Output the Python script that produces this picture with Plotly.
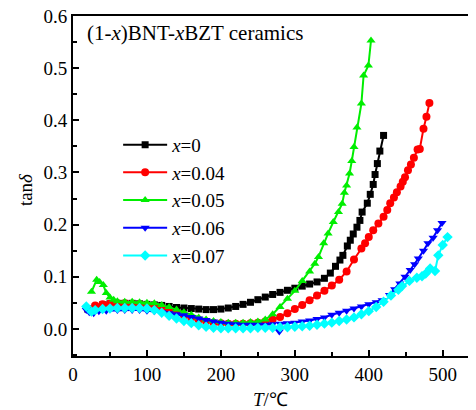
import plotly.graph_objects as go

# x = 0 (black squares)
t_black = [20, 30, 40, 50, 60, 70, 80, 90, 100, 110, 120, 130, 140, 150, 160, 170, 180, 190,
           200, 210, 220, 230, 240, 250, 260, 270, 280, 290, 300, 310, 320, 330, 340, 348,
           355, 361, 365, 371, 375, 379, 384, 388, 391, 398, 402, 406, 408.5, 411.6, 415, 420]
d_black = [0.038, 0.042, 0.046, 0.048, 0.049, 0.049, 0.049, 0.048, 0.047, 0.046, 0.045, 0.043,
           0.041, 0.040, 0.039, 0.038, 0.037, 0.037, 0.038, 0.040, 0.043, 0.047, 0.051, 0.056,
           0.061, 0.066, 0.070, 0.074, 0.078, 0.082, 0.086, 0.090, 0.097, 0.107, 0.120, 0.132,
           0.141, 0.159, 0.170, 0.182, 0.195, 0.208, 0.224, 0.241, 0.258, 0.277, 0.296, 0.317,
           0.341, 0.371]

# x = 0.04 (red circles)
t_red = [20, 30, 40, 50, 60, 70, 80, 90, 100, 110, 120, 130, 140, 150, 160, 170, 180, 190, 200,
         210, 220, 230, 240, 250, 260, 270, 280, 290, 300, 310, 320, 330, 340, 350, 360, 370,
         380, 390, 395, 400, 406, 413, 420, 425, 429, 434, 438, 443, 446, 449, 453, 457, 461,
         466, 469, 474, 478, 482]
d_red = [0.038, 0.045, 0.047, 0.048, 0.049, 0.049, 0.048, 0.047, 0.046, 0.044, 0.040, 0.035,
         0.030, 0.025, 0.021, 0.017, 0.014, 0.012, 0.011, 0.010, 0.010, 0.010, 0.011, 0.012,
         0.014, 0.018, 0.023, 0.030, 0.038, 0.046, 0.055, 0.064, 0.073, 0.083, 0.094, 0.110,
         0.133, 0.154, 0.164, 0.176, 0.189, 0.202, 0.215, 0.228, 0.241, 0.252, 0.262, 0.273,
         0.282, 0.291, 0.304, 0.315, 0.328, 0.344, 0.345, 0.384, 0.407, 0.433]

# x = 0.05 (green up-triangles)
t_green = [25, 32, 36, 41, 45, 50, 55, 60, 70, 80, 90, 100, 110, 120, 130, 140, 150, 160, 170,
           180, 190, 200, 210, 220, 230, 240, 250, 260, 270, 280, 290, 300, 310, 320, 327, 332,
           339, 345, 352, 359, 364, 367, 370, 374, 377, 380, 384, 390, 393, 399.5, 403]
d_green = [0.071, 0.094, 0.090, 0.084, 0.069, 0.060, 0.056, 0.053, 0.052, 0.052, 0.051, 0.050,
           0.049, 0.046, 0.042, 0.037, 0.032, 0.027, 0.022, 0.018, 0.015, 0.013, 0.012, 0.012,
           0.012, 0.013, 0.014, 0.018, 0.028, 0.042, 0.058, 0.073, 0.092, 0.110, 0.125, 0.138,
           0.164, 0.183, 0.205, 0.224, 0.240, 0.261, 0.275, 0.298, 0.322, 0.349, 0.386, 0.432,
           0.486, 0.505, 0.553]

# x = 0.06 (blue down-triangles); None marks the break in the curve
t_blue = [18, 22, 28, 35, 45, 60, 70, 80, 90, 100, 110, 120, 130, 140, 150, 160, 170, 180, 190,
          200, 210, 220, 230, 240, 250, 260, 270, 279, 280, 290, 300, 310, 320, 330, 340, 350,
          360, 370, 380, 390, 400, 410, 418, None, 428, 435, 442, 449, 456, 462, 467, 474, 480,
          487, 493, 499]
d_blue = [0.036, 0.032, 0.030, 0.034, 0.035, 0.036, 0.036, 0.036, 0.036, 0.035, 0.034, 0.032,
          0.030, 0.028, 0.026, 0.023, 0.020, 0.017, 0.014, 0.012, 0.010, 0.009, 0.008, 0.008,
          0.008, 0.008, 0.009, -0.005, 0.010, 0.011, 0.012, 0.014, 0.016, 0.019, 0.022, 0.027,
          0.031, 0.035, 0.039, 0.043, 0.047, 0.051, 0.055, None, 0.065, 0.076, 0.087, 0.100,
          0.113, 0.124, 0.135, 0.150, 0.164, 0.175, 0.189, 0.203]

# x = 0.07 (cyan diamonds)
t_cyan = [18, 25, 30, 40, 50, 60, 70, 80, 90, 100, 110, 120, 130, 140, 150, 160, 170, 180, 190,
          200, 210, 220, 230, 240, 250, 260, 270, 280, 290, 300, 310, 320, 330, 340, 350, 360,
          370, 380, 390, 400, 410, 420, 430, 440, 445, 455, 465, 472, 477, 483, 489.6, 494, 500,
          506.5]
d_cyan = [0.043, 0.033, 0.036, 0.038, 0.039, 0.040, 0.040, 0.040, 0.040, 0.039, 0.036, 0.031,
          0.025, 0.020, 0.015, 0.011, 0.007, 0.004, 0.002, 0.001, 0.001, 0.001, 0.001, 0.001,
          0.002, 0.002, 0.002, 0.003, 0.003, 0.004, 0.005, 0.006, 0.008, 0.010, 0.012, 0.015,
          0.018, 0.022, 0.028, 0.034, 0.042, 0.052, 0.064, 0.075, 0.082, 0.092, 0.098, 0.101,
          0.106, 0.116, 0.111, 0.141, 0.161, 0.176]

series = [
    ("<i>x</i>=0", t_black, d_black, "#000000", "square", 7),
    ("<i>x</i>=0.04", t_red, d_red, "#ff0000", "circle", 8),
    ("<i>x</i>=0.05", t_green, d_green, "#00ee00", "triangle-up", 8),
    ("<i>x</i>=0.06", t_blue, d_blue, "#0000ff", "triangle-down", 8),
    ("<i>x</i>=0.07", t_cyan, d_cyan, "#00ffff", "diamond", 8),
]

FONT = "Liberation Serif"

fig = go.Figure()
for name, t, d, col, sym, size in series:
    fig.add_trace(go.Scatter(
        x=t, y=d, name=name, mode="lines+markers",
        line=dict(color=col, width=2),
        marker=dict(symbol=sym, size=size, color=col, line=dict(width=0)),
        connectgaps=False,
    ))

# the page body adds an 8px offset, so margins are shifted by 8px
fig.update_layout(
    width=476, height=410,
    margin=dict(l=65, r=8, t=8, b=62, autoexpand=False),
    paper_bgcolor="white", plot_bgcolor="white",
    font=dict(family=FONT, size=19, color="black"),
    showlegend=True,
    legend=dict(
        x=0.112, y=0.677, xanchor="left", yanchor="top",
        bgcolor="rgba(0,0,0,0)", borderwidth=0,
        font=dict(family=FONT, size=19),
        itemwidth=44, tracegroupgap=0,
    ),
    xaxis=dict(
        range=[0, 545], showgrid=False, zeroline=False, automargin=False,
        showline=True, linecolor="black", linewidth=2, mirror=True,
        ticks="inside", ticklen=6, tickwidth=2, tickcolor="black",
        tickvals=[0, 100, 200, 300, 400, 500],
        minor=dict(tickvals=[50, 150, 250, 350, 450], ticks="inside", ticklen=4,
                   tickwidth=2, tickcolor="black"),
        tickfont=dict(family=FONT, size=19),
        ticklabeloverflow="allow",
    ),
    yaxis=dict(
        range=[-0.052, 0.6], showgrid=False, zeroline=False, automargin=False,
        showline=True, linecolor="black", linewidth=2, mirror=False,
        ticks="inside", ticklen=6, tickwidth=2, tickcolor="black",
        tickvals=[0.0, 0.1, 0.2, 0.3, 0.4, 0.5, 0.6], tickformat=".1f",
        minor=dict(tickvals=[-0.05, 0.05, 0.15, 0.25, 0.35, 0.45, 0.55], ticks="inside",
                   ticklen=4, tickwidth=2, tickcolor="black"),
        tickfont=dict(family=FONT, size=19),
        ticklabeloverflow="allow",
    ),
    annotations=[
        dict(text="(1-<i>x</i>)BNT-<i>x</i>BZT ceramics", xref="paper", yref="paper",
             x=0.03, y=0.95, xanchor="left", yanchor="middle", showarrow=False,
             font=dict(family=FONT, size=21)),
        dict(text="tan<i>δ</i>", xref="paper", yref="paper", x=-0.119, y=0.488,
             xanchor="center", yanchor="middle", textangle=-90, showarrow=False,
             font=dict(family=FONT, size=19)),
        dict(text="<i>T</i>/℃", xref="paper", yref="paper", x=0.49, y=-0.128,
             xanchor="center", yanchor="middle", showarrow=False,
             font=dict(family=FONT, size=19)),
    ],
)

fig.write_html("out.html")
